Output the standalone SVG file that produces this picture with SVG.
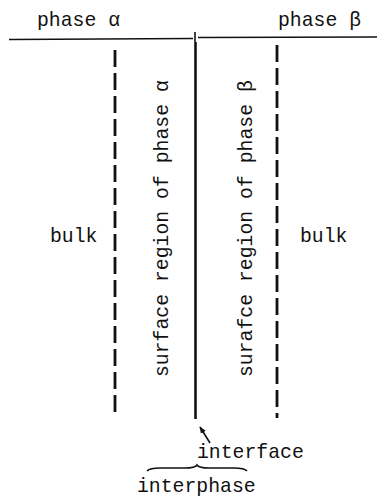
<svg xmlns="http://www.w3.org/2000/svg" width="377" height="498" viewBox="0 0 377 498">
<style>
text{font-family:"Liberation Mono","DejaVu Sans Mono",monospace;font-size:19.8px;fill:#111}
.ln{stroke:#111;fill:none;stroke-width:1.6}
.dash{stroke:#111;stroke-width:2.8;stroke-dasharray:17 6;fill:none}
.solid{stroke:#111;stroke-width:2.6;fill:none}
</style>
<defs>
<marker id="ah" viewBox="0 0 10 10" refX="9" refY="5" markerWidth="7" markerHeight="7" orient="auto" markerUnits="userSpaceOnUse">
<path d="M0,1 L10,5 L0,9 Z" fill="#111"/>
</marker>
</defs>
<rect width="377" height="498" fill="#fff"/>
<g id="phase-alpha"><text x="37" y="25.5">phase α</text></g>
<g id="phase-beta"><text x="278" y="25.5">phase β</text></g>
<g id="boundary">
<path class="ln" d="M9,39.5 L193,38.5"/>
<path class="ln" d="M198,37.5 L377,37"/>
<path class="ln" d="M195,32 L195,42"/>
</g>
<g id="bulk-left"><text x="50" y="242">bulk</text></g>
<g id="bulk-right"><text x="300" y="242">bulk</text></g>
<g id="surface-alpha"><text transform="translate(168,377) rotate(-90)">surface region of phase α</text></g>
<g id="surface-beta"><text transform="translate(252,377) rotate(-90)">surafce region of phase β</text></g>
<g id="interface-label"><text x="197" y="458">interface</text></g>
<g id="interphase-label"><text x="137" y="492">interphase</text></g>
<g id="connectors">
<path class="dash" d="M115,50 L115,418"/>
<path class="solid" d="M195.5,42 L195.5,419"/>
<path class="dash" d="M277,45 L277,418"/>
<path class="ln" d="M210,443 L200,427" marker-end="url(#ah)"/>
<path class="ln" d="M147,471 Q150,468 160,468 L185,468 Q195,468 197,465 Q199,468 209,468 L234,468 Q244,468 247,471"/>
</g>
</svg>
